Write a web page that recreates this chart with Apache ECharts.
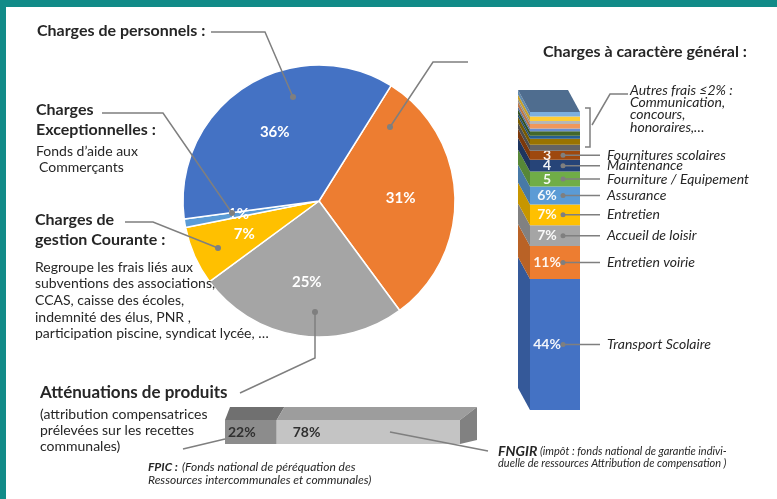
<!DOCTYPE html>
<html><head><meta charset="utf-8">
<script src="https://cdn.jsdelivr.net/npm/echarts@6/dist/echarts.min.js"></script>
<style>html,body{margin:0;padding:0;background:#fff}#c{width:777px;height:499px}</style>
</head><body><div id="c"></div>
<script>
// ---- Data ----
const pieNames = ['Charges à caractère général','Atténuations de produits','Charges de gestion Courante','Charges Exceptionnelles','Charges de personnels'];
const pieValues = [31, 25, 7, 1, 36];
const pieColors = ['#ed7d31','#a5a5a5','#ffc000','#5b9bd5','#4472c4'];

const stackNames = ['Transport Scolaire','Entretien voirie','Accueil de loisir','Entretien','Assurance','Fourniture / Equipement','Maintenance','Fournitures scolaires','','','','','','','','',''];
const stackValues = [44, 11, 7, 7, 6, 5, 4, 3, 2, 2, 1, 1.5, 1, 1.5, 1, 1.5, 1.5];
const stackLabels = ['44%','11%','7%','7%','6%','5','4','3','','','','','','','','',''];
const stackColors = ['#4472c4','#ed7d31','#a5a5a5','#ffc000','#5b9bd5','#70ad47','#264478','#9e480e','#636363','#997300','#255e91','#43682b','#698ed0','#f1975a','#b7b7b7','#ffcd33','#7cafdd'];

const attNames = ['FPIC','FNGIR'];
const attValues = [22, 78];
const attLabels = ['22%','78%'];
const attColors = ['#8c8c8c','#c4c4c4'];

// ---- Helpers ----
const G = '#7f7f7f';
const FONT = 'Lato, "Open Sans", sans-serif';
function shade(hex, f){ const n=parseInt(hex.slice(1),16); return 'rgb('+Math.round(((n>>16)&255)*f)+','+Math.round(((n>>8)&255)*f)+','+Math.round((n&255)*f)+')'; }
function T(x,y,t,font){ return {type:'text', x:x, y:y, z:20, style:{text:t, font:font, fill:'#262626', align:'left', textAlign:'left', verticalAlign:'middle', textVerticalAlign:'middle'}}; }
function L(pts){ return {type:'polyline', z:15, shape:{points:pts}, style:{stroke:G, lineWidth:1.5, fill:null}}; }
function D(x,y){ return {type:'circle', z:16, shape:{cx:x, cy:y, r:3}, style:{fill:G}}; }

let acc = 0;
const colData = stackValues.map((v,i)=>{ const s=acc; acc+=v; return [0, s, acc, i]; });
let acc2 = 0;
const attData = attValues.map((v,i)=>{ const s=acc2; acc2+=v; return [s, acc2, 0, i]; });

function renderColumn(params, api){
  const i = api.value(3), s = api.value(1), e = api.value(2);
  const b = api.coord([0, s]), t = api.coord([0, e]);
  const w = api.size([1, 0])[0];
  const x0 = b[0]-w/2, x1 = b[0]+w/2, yb = b[1], yt = t[1], mid = (yb+yt)/2;
  const c = stackColors[i]; const DX = -12, DY = -22;
  const ch = [
    {type:'polygon', shape:{points:[[x0,yb],[x0+DX,yb+DY],[x0+DX,yt+DY],[x0,yt]]}, style:{fill:shade(c,0.78)}},
    {type:'rect', shape:{x:x0, y:yt, width:w, height:yb-yt}, style:{fill:c}}
  ];
  if (i === stackValues.length-1) ch.push({type:'polygon', shape:{points:[[x0,yt],[x0+DX,yt+DY],[x1+DX,yt+DY],[x1,yt]]}, style:{fill:'#4f6d8f'}});
  if (stackLabels[i]) ch.push({type:'text', x:x0+17, y:mid, style:{text:stackLabels[i], fill:'rgba(255,255,255,0.93)', font:'bold 14px '+FONT, align:'center', textAlign:'center', verticalAlign:'middle', textVerticalAlign:'middle'}});
  if (stackNames[i]) {
    ch.push({type:'line', shape:{x1:x0+33, y1:mid, x2:x1+20, y2:mid}, style:{stroke:G, lineWidth:1.5}});
    ch.push({type:'circle', shape:{cx:x0+33, cy:mid, r:2.5}, style:{fill:G}});
    ch.push({type:'text', x:x1+27, y:mid, style:{text:stackNames[i], fill:'#262626', font:'italic 14px '+FONT, align:'left', textAlign:'left', verticalAlign:'middle', textVerticalAlign:'middle'}});
  }
  return {type:'group', children:ch};
}

function renderAtt(params, api){
  const i = api.value(3), s = api.value(0), e = api.value(1);
  const l = api.coord([s, 0]), r = api.coord([e, 0]);
  const h = api.size([0, 1])[1];
  const xL = api.coord([0, 0])[0], xR = api.coord([100, 0])[0];
  const y0 = l[1]-h/2, y1 = l[1]+h/2;
  const dxf = x => 5 + 12*(x-xL)/(xR-xL); const DY = -13;
  const c = attColors[i];
  const ch = [
    {type:'rect', shape:{x:l[0], y:y0, width:r[0]-l[0], height:h}, style:{fill:c}},
    {type:'polygon', shape:{points:[[l[0],y0],[l[0]+dxf(l[0]),y0+DY],[r[0]+dxf(r[0]),y0+DY],[r[0],y0]]}, style:{fill:shade(c,0.8)}}
  ];
  if (i === attValues.length-1) ch.push({type:'polygon', shape:{points:[[r[0],y0],[r[0]+dxf(r[0]),y0+DY],[r[0]+dxf(r[0]),y1-4],[r[0],y1]]}, style:{fill:shade(c,0.66)}});
  ch.push({type:'text', x:l[0]+(i===0?3:16), y:l[1], style:{text:attLabels[i], fill:'#303030', font:'bold 14px '+FONT, align:'left', textAlign:'left', verticalAlign:'middle', textVerticalAlign:'middle'}});
  return {type:'group', children:ch};
}

const B16 = 'bold 16px '+FONT, R13 = '14px '+FONT, I13 = 'italic 14px '+FONT;
const graphics = [
  {type:'rect', z:30, shape:{x:0,y:0,width:777,height:7}, style:{fill:'#118b88'}},
  {type:'rect', z:30, shape:{x:0,y:0,width:6,height:499}, style:{fill:'#118b88'}},
  T(37,31,'Charges de personnels :',B16),
  T(36,110,'Charges',B16), T(36,130,'Exceptionnelles :',B16),
  T(36,151,'Fonds d’aide aux',R13), T(39,167,'Commerçants',R13),
  T(35,220,'Charges de',B16), T(35,240,'gestion Courante :',B16),
  T(35,267,'Regroupe les frais liés aux',R13),
  T(35,283,'subventions des associations,',R13),
  T(35,300,'CCAS, caisse des écoles,',R13),
  T(35,317,'indemnité des élus, PNR ,',R13),
  T(35,333,'participation piscine, syndicat lycée, …',R13),
  T(40,393,'Atténuations de produits','bold 17px '+FONT),
  T(40,414,'(attribution compensatrices','14px '+FONT),
  T(40,430,'prélevées sur les recettes','14px '+FONT),
  T(40,446,'communales)','14px '+FONT),
  T(148,467,'FPIC :','italic bold 12px '+FONT),
  T(182,467,'(Fonds national de péréquation des','italic 12px '+FONT),
  T(148,480,'Ressources intercommunales et communales)','italic 12px '+FONT),
  T(498,451,'FNGIR','italic bold 14px '+FONT),
  T(540,451,'(impôt : fonds national de garantie indivi-','italic 11px '+FONT),
  T(498,463,'duelle de ressources Attribution de compensation )','italic 11px '+FONT),
  T(543,52,'Charges à caractère général :',B16),
  T(630,90,'Autres frais ≤2% :',I13),
  T(630,102,'Communication,',I13),
  T(630,114,'concours,',I13),
  T(630,127,'honoraires,…',I13),
  L([[211,32],[265,32],[293,97]]), D(293,97),
  L([[468,62],[433,62],[390,127]]), D(390,127),
  L([[102,113],[163,113],[232,213]]), D(232,213),
  L([[125,222],[153,222],[218,248]]), D(218,248),
  L([[315,312],[315,358],[240,393]]), D(315,312),
  L([[585,108],[590,108],[590,147],[585,147]]),
  L([[592,125],[610,94],[628,94]]),
  L([[183,449],[225,439]]),
  L([[390,432],[488,451]])
];

const chart = echarts.init(document.getElementById('c'), null, {renderer:'canvas'});
chart.setOption({
  backgroundColor:'#ffffff',
  animation:false,
  textStyle:{fontFamily:FONT},
  grid:[
    {left:530, top:112, width:50, height:298},
    {left:225, top:420, width:235, height:24}
  ],
  xAxis:[
    {gridIndex:0, type:'category', data:['col'], show:false},
    {gridIndex:1, type:'value', min:0, max:100, show:false}
  ],
  yAxis:[
    {gridIndex:0, type:'value', min:0, max:100, show:false},
    {gridIndex:1, type:'category', data:['att'], show:false}
  ],
  series:[
    {
      type:'pie', center:[319,201], radius:136, startAngle:58, clockwise:true,
      avoidLabelOverlap:false, silent:true,
      itemStyle:{borderColor:'#fff', borderWidth:1.5},
      label:{show:true, position:'inside', formatter:p=>p.value+'%', color:'#fff', fontSize:15, fontWeight:'bold', fontFamily:FONT},
      labelLine:{show:false},
      labelLayout:function(p){ const r=p.labelRect; const cx=r.x+r.width/2, cy=r.y+r.height/2; return {dx:(cx-319)*0.15, dy:(cy-201)*0.15}; },
      data:pieValues.map((v,i)=>({name:pieNames[i], value:v, itemStyle:{color:pieColors[i]}}))
    },
    {type:'custom', coordinateSystem:'cartesian2d', xAxisIndex:0, yAxisIndex:0, renderItem:renderColumn, encode:{x:0, y:[1,2]}, data:colData, silent:true},
    {type:'custom', coordinateSystem:'cartesian2d', xAxisIndex:1, yAxisIndex:1, renderItem:renderAtt, encode:{x:[0,1], y:2}, data:attData, silent:true}
  ],
  graphic:{elements:graphics}
});
</script></body></html>
